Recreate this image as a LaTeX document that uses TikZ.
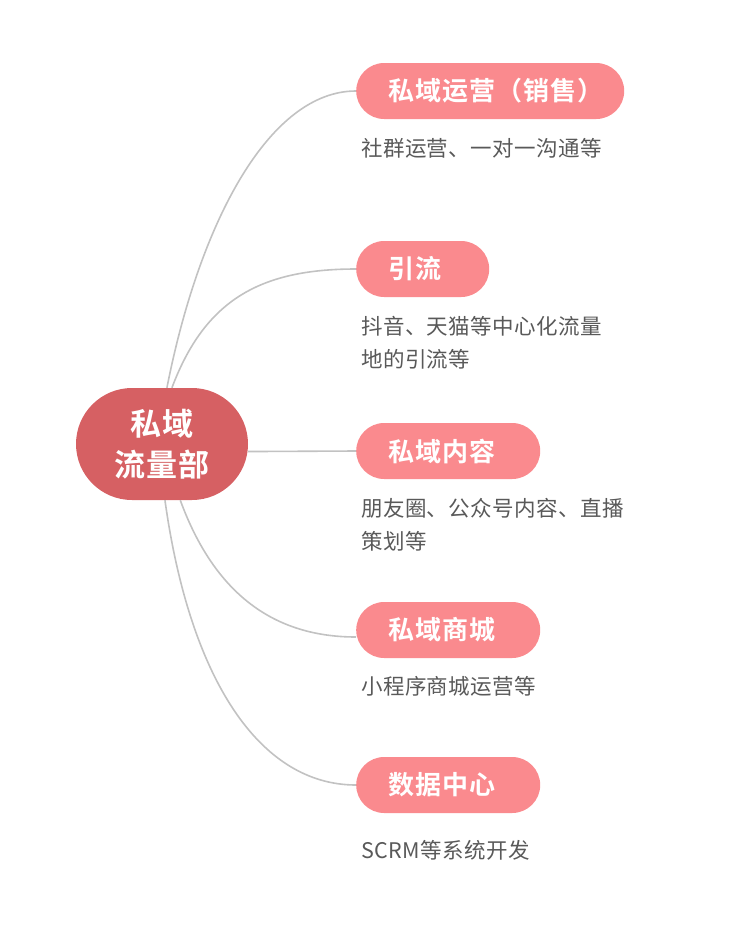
\documentclass[tikz,border=0pt]{standalone}
\usepackage{fontspec}
\setmainfont{Noto Sans CJK SC}
\newfontfamily\descfont{Noto Sans CJK SC}[LetterSpace=2]
\newfontfamily\pillfont{Noto Sans CJK SC Bold}[LetterSpace=4]
\newfontfamily\rootfont{Noto Sans CJK SC Bold}[LetterSpace=2]
\definecolor{rootred}{HTML}{D66063}
\definecolor{pillpink}{HTML}{FA8A8E}
\definecolor{linegray}{HTML}{C2C2C2}
\definecolor{descgray}{HTML}{595959}
\begin{document}
\begin{tikzpicture}[x=1pt,y=-1pt,
  root/.style={fill=rootred, rounded corners=56pt, minimum width=172pt, minimum height=112pt,
    text=white, font=\rootfont\fontsize{31}{41}\selectfont, align=center, inner sep=0pt},
  pill/.style={fill=pillpink, rounded corners=28pt, minimum height=56pt, inner xsep=32pt,
    text=white, font=\pillfont\fontsize{26}{30}\selectfont, anchor=west, align=left},
  desc/.style={text=descgray, font=\descfont\fontsize{21.5}{33}\selectfont, anchor=north west, align=left, inner sep=0pt},
  conn/.style={draw=linegray, line width=1.6pt}]
\useasboundingbox (0,0) rectangle (750,940);
\node[root] (c) at (162,444) {私域\\流量部};
\node[pill, text width=204pt] (p1) at (356,91) {私域运营（销售）};
\node[pill, text width=69pt] (p2) at (356,269) {引流};
\node[pill, text width=120pt] (p3) at (356,451) {私域内容};
\node[pill, text width=120pt] (p4) at (356,630) {私域商城};
\node[pill, text width=120pt] (p5) at (356,785) {数据中心};
\node[desc] (d1) at (361,138) {社群运营、一对一沟通等};
\node[desc] (d2) at (361,316) {抖音、天猫等中心化流量\\地的引流等};
\node[desc] (d3) at (361,498) {朋友圈、公众号内容、直播\\策划等};
\node[desc] (d4) at (361,676) {小程序商城运营等};
\node[desc] (d5) at (361,840) {SCRM等系统开发};
\draw[conn] (c.85) .. controls (200,220) and (270,91) .. (p1.west);
\draw[conn] (c.80) .. controls (205,300) and (260,269) .. (p2.west);
\draw[conn] (c.-5) -- (p3.west);
\draw[conn] (c.-72) .. controls (215,595) and (275,637) .. ([yshift=-7pt]p4.west);
\draw[conn] (c.-87) .. controls (190,680) and (260,785) .. (p5.west);
\end{tikzpicture}
\end{document}
